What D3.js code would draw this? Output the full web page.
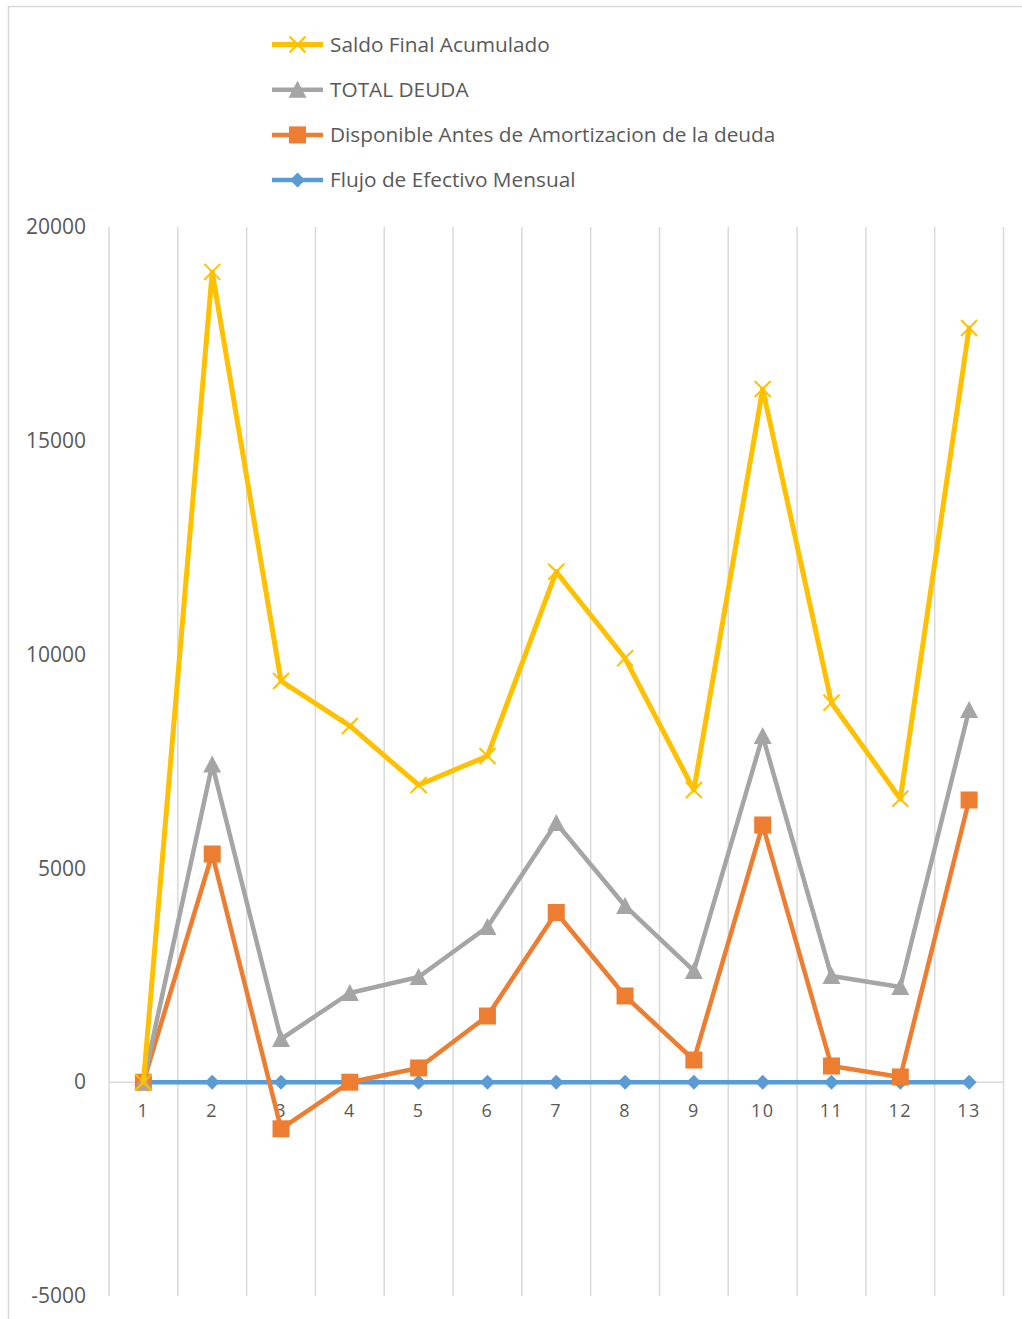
<!DOCTYPE html>
<html>
<head>
<meta charset="utf-8">
<script src="https://cdn.jsdelivr.net/npm/d3@7"></script>
<style>
  html, body { margin: 0; padding: 0; background: #fff; }
  svg { display: block; font-family: "Open Sans", "Liberation Sans", sans-serif; }
</style>
</head>
<body>
<svg id="chart" width="1022" height="1319"></svg>
<script>
// Months
const categories = ["1","2","3","4","5","6","7","8","9","10","11","12","13"];

// Series values
const saldoFinal   = [0, 18950, 9383, 8331, 6950, 7629, 11939, 9913, 6834, 16212, 8875, 6630, 17638];
const totalDeuda   = [0, 7430, 1010, 2086, 2460, 3629, 6062, 4121, 2601, 8096, 2483, 2226, 8704];
const disponible   = [0, 5337, -1090, 0, 333, 1548, 3969, 2016, 519, 6015, 379, 122, 6600];
const flujoMensual = [0, 0, 0, 0, 0, 0, 0, 0, 0, 0, 0, 0, 0];

// Axis ticks
const yTicks = [-5000, 0, 5000, 10000, 15000, 20000];

const seriesNames = [
  "Saldo Final Acumulado",
  "TOTAL DEUDA",
  "Disponible Antes de Amortizacion de la deuda",
  "Flujo de Efectivo Mensual"
];

const series = [
  { name: seriesNames[3], values: flujoMensual, color: "#5B9BD5", marker: "diamond" },
  { name: seriesNames[2], values: disponible,   color: "#ED7D31", marker: "square" },
  { name: seriesNames[1], values: totalDeuda,   color: "#A5A5A5", marker: "triangle" },
  { name: seriesNames[0], values: saldoFinal,   color: "#FFC000", marker: "x" }
];

const svg = d3.select("#chart");
const textColor = "#595959";
const gridColor = "#D9D9D9";

// Outer chart border
svg.append("rect")
  .attr("x", 8.5).attr("y", 6.5)
  .attr("width", 1030).attr("height", 1330)
  .attr("fill", "none").attr("stroke", gridColor).attr("stroke-width", 1.5);

const plot = { left: 109, right: 1003.5, top: 227, bottom: 1296 };

const x = d3.scaleBand().domain(categories).range([plot.left, plot.right]).padding(0);
const y = d3.scaleLinear().domain([-5000, 20000]).range([plot.bottom, plot.top]);

// Vertical gridlines at category boundaries
const bounds = categories.map(c => x(c)).concat([plot.right]);
svg.append("g").selectAll("line").data(bounds).join("line")
  .attr("x1", d => d).attr("x2", d => d)
  .attr("y1", plot.top).attr("y2", plot.bottom)
  .attr("stroke", gridColor).attr("stroke-width", 1.5);

// Zero baseline
svg.append("line")
  .attr("x1", plot.left).attr("x2", plot.right)
  .attr("y1", y(0)).attr("y2", y(0))
  .attr("stroke", gridColor).attr("stroke-width", 1.5);

// Y axis labels
const yAxis = d3.axisLeft(y).tickValues(yTicks).tickSize(0).tickPadding(0)
  .tickFormat(d => String(d));
const gy = svg.append("g").attr("transform", `translate(86,0)`).call(yAxis);
gy.select(".domain").remove();
gy.selectAll("text").attr("fill", textColor).attr("font-size", 21)
  .attr("font-family", "'Open Sans', sans-serif");

// X axis labels under the zero line
const xAxis = d3.axisBottom(x).tickSize(0).tickPadding(0);
const gx = svg.append("g").attr("transform", `translate(0,${y(0) + 28})`).call(xAxis);
gx.select(".domain").remove();
gx.selectAll("text").attr("fill", textColor).attr("font-size", 18)
  .attr("letter-spacing", 1.5).attr("dy", "0.35em")
  .attr("font-family", "'Open Sans', sans-serif");

const cx = d => x(d) + x.bandwidth() / 2;

function drawMarker(g, type, color, px, py) {
  if (type === "diamond") {
    g.append("path").attr("d", `M${px},${py - 7.5}L${px + 7.5},${py}L${px},${py + 7.5}L${px - 7.5},${py}Z`)
      .attr("fill", color);
  } else if (type === "square") {
    g.append("rect").attr("x", px - 8.5).attr("y", py - 8.5)
      .attr("width", 17).attr("height", 17).attr("fill", color);
  } else if (type === "triangle") {
    g.append("path").attr("d", `M${px},${py - 9}L${px + 9},${py + 8}L${px - 9},${py + 8}Z`)
      .attr("fill", color);
  } else if (type === "x") {
    g.append("path").attr("d", `M${px - 8},${py - 8}L${px + 8},${py + 8}M${px + 8},${py - 8}L${px - 8},${py + 8}`)
      .attr("fill", "none").attr("stroke", color).attr("stroke-width", 2);
  }
}

const line = d3.line().x((d, i) => cx(categories[i])).y(d => y(d));

series.forEach(s => {
  const g = svg.append("g");
  g.append("path").datum(s.values).attr("d", line)
    .attr("fill", "none").attr("stroke", s.color)
    .attr("stroke-width", s.marker === "x" ? 5 : 4.5)
    .attr("stroke-linejoin", "round").attr("stroke-linecap", "round");
  s.values.forEach((v, i) => drawMarker(g, s.marker, s.color, cx(categories[i]), y(v)));
});

// Legend
const legendOrder = [series[3], series[2], series[1], series[0]];
const lg = svg.append("g");
legendOrder.forEach((s, i) => {
  const ly = 44.5 + i * 45.2;
  lg.append("line").attr("x1", 272).attr("x2", 323).attr("y1", ly).attr("y2", ly)
    .attr("stroke", s.color).attr("stroke-width", s.marker === "x" ? 5 : 4.5);
  drawMarker(lg, s.marker, s.color, 297.5, ly);
  lg.append("text").attr("x", 330).attr("y", ly).attr("dy", "0.35em")
    .attr("fill", textColor).attr("font-size", 20.8)
    .text(s.name);
});
</script>
</body>
</html>
